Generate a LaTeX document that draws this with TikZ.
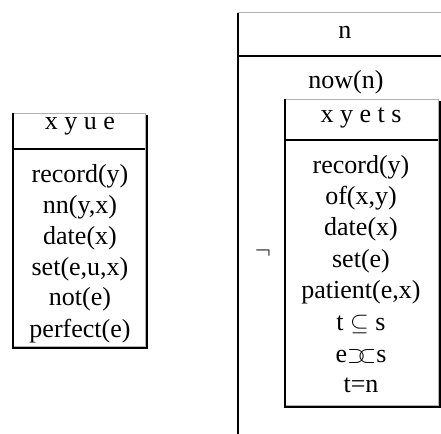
\documentclass[tikz,border=0pt]{standalone}
\usepackage{fontspec}
\setmainfont{Liberation Serif}
\usepackage{tikz}

\begin{document}
\begin{tikzpicture}[x=0.5pt, y=-0.5pt,
    edge/.style={gray!60, line width=0.4pt},
    shade/.style={black, line width=1.2pt},
    cond/.style={anchor=base, inner sep=0pt, font=\fontsize{13}{15.5}\selectfont}]
    \useasboundingbox (0,0) rectangle (441,434);
    \clip (0,0) rectangle (441,434);
    % left box
    \draw[edge] (13,113) rectangle (145.5,346.5);
    \draw[shade] (13,113) -- (13,348) -- (147,348) -- (147,115);
    \draw[shade] (13,149) -- (145.5,149);
    \node[cond] (refs1) at (80,129) {x y u e};
    \node[cond] (c11) at (80,182) {record(y)};
    \node[cond] (c12) at (80,213) {nn(y,x)};
    \node[cond] (c13) at (80,244) {date(x)};
    \node[cond] (c14) at (80,275) {set(e,u,x)};
    \node[cond] (c15) at (80,306) {not(e)};
    \node[cond] (c16) at (80,337) {perfect(e)};
    % outer box
    \draw[edge] (238,12) -- (445,12);
    \draw[shade] (238,13) -- (238,440);
    \draw[shade] (238,56) -- (445,56);
    \node[cond] (refs2) at (345,38) {n};
    \node[cond] (now) at (346,88) {now(n)};
    \node[cond] (neg) at (263,258) {$\neg$};
    % inner box
    \draw[edge] (285,99) rectangle (438.5,405.5);
    \draw[shade] (285,99) -- (285,407) -- (440,407) -- (440,101);
    \draw[shade] (285,140) -- (438.5,140);
    \node[cond] (refs3) at (361,122) {x y e t s};
    \node[cond] (c21) at (361,173) {record(y)};
    \node[cond] (c22) at (361,204) {of(x,y)};
    \node[cond] (c23) at (361,235) {date(x)};
    \node[cond] (c24) at (361,267) {set(e)};
    \node[cond] (c25) at (361,298) {patient(e,x)};
    \node[cond] (c26) at (361,330) {t $\subseteq$ s};
    \node[cond] (c27) at (361,362) {e$\supset\!\!\subset$s};
    \node[cond] (c28) at (361,393) {t=n};
\end{tikzpicture}
\end{document}
